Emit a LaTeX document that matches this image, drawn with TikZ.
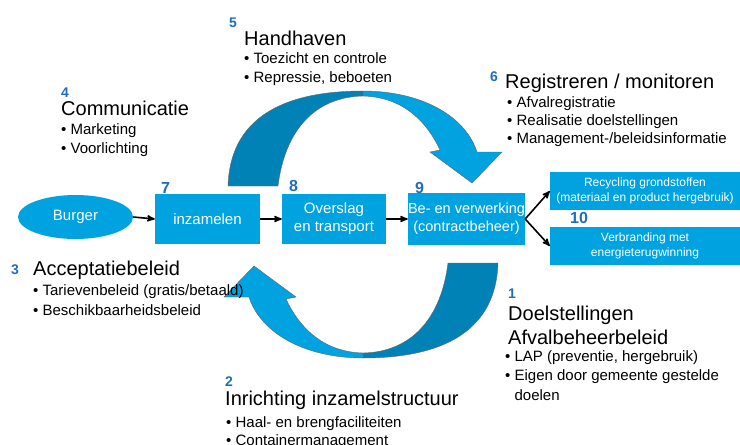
\documentclass[tikz,border=0pt]{standalone}
\usepackage{fontspec}
\setmainfont{Liberation Sans}
\usetikzlibrary{shapes.geometric, arrows}
\definecolor{boxblue}{RGB}{0,163,224}
\definecolor{bandblue}{RGB}{0,130,182}
\definecolor{numblue}{RGB}{30,110,190}
\tikzset {
    >=stealth',
    box/.style={fill=boxblue, text=white, inner sep=0pt, align=center, font=\fontsize{15}{18}\selectfont},
    stage/.style={anchor=base west, inner sep=0pt, text=numblue, font=\fontsize{16}{16}\selectfont\bfseries},
    blocknum/.style={anchor=base west, inner sep=0pt, text=numblue, font=\fontsize{14}{14}\selectfont\bfseries},
    heading/.style={anchor=base west, inner sep=0pt, align=left, font=\fontsize{20}{24}\selectfont},
    bullets/.style={anchor=base west, inner sep=0pt, align=left, font=\fontsize{15}{19}\selectfont},
    flow/.style={->, line width=1.6pt},
    lightband/.style={fill=boxblue, draw=black!60, line width=0.4pt},
    darkband/.style={fill=bandblue, draw=black!60, line width=0.4pt}
}

\begin{document}
\begin{tikzpicture}[x=1pt, y=-1pt]
    \useasboundingbox (0,0) rectangle (740,445);

    % curved arrows (bottom one is the top one turned round)
    \draw[darkband] (228,186) .. controls (230,120) and (280,91) .. (363,91) -- (363,96) .. controls (315,97) and (285,130) .. (278,186) -- cycle;
    \draw[lightband] (363,91) .. controls (420,91) and (465,115) .. (477,152) -- (502,152) -- (472,183) -- (430,152) -- (440,150) .. controls (425,118) and (400,97) .. (363,96) -- cycle;
    \begin{scope}[rotate around={180:(363,224.5)}]
        \draw[darkband] (228,186) .. controls (230,120) and (280,91) .. (363,91) -- (363,96) .. controls (315,97) and (285,130) .. (278,186) -- cycle;
        \draw[lightband] (363,91) .. controls (420,91) and (465,115) .. (477,152) -- (502,152) -- (472,183) -- (430,152) -- (440,150) .. controls (425,118) and (400,97) .. (363,96) -- cycle;
    \end{scope}

    % chain
    \node[box, ellipse, minimum width=115pt, minimum height=44pt] (burger) at (75.5,217) {Burger};
    \node[box, minimum width=105pt, minimum height=50pt] (inzamelen) at (207.5,219) {inzamelen};
    \node[box, minimum width=104pt, minimum height=50pt] (overslag) at (334,219) {Overslag\\en transport};
    \node[box, minimum width=117pt, minimum height=52pt, font=\fontsize{14.5}{18}\selectfont] (verwerking) at (466.5,219) {Be- en verwerking\\(contractbeheer)};
    \node[box, minimum width=190pt, minimum height=38pt, font=\fontsize{12}{15}\selectfont] (recycling) at (645,191) {Recycling grondstoffen\\(materiaal en product hergebruik)};
    \node[box, minimum width=190pt, minimum height=38pt, font=\fontsize{12}{15}\selectfont] (verbranding) at (645,246) {Verbranding met\\energieterugwinning};

    \node[stage] (n7) at (161,193) {7};
    \node[stage] (n8) at (289,191) {8};
    \node[stage] (n9) at (415,193) {9};
    \node[stage] (n10) at (570,223) {10};

    \draw[flow] (burger.east) -- (inzamelen.west);
    \draw[flow] (inzamelen) -- (overslag);
    \draw[flow] (overslag) -- (verwerking);
    \draw[flow] (verwerking.east) -- (recycling.west);
    \draw[flow] (verwerking.east) -- (verbranding.west);

    % 4 (base = last line)
    \node[blocknum] (num4) at (61,97) {4};
    \node[heading] (head4) at (61,115) {Communicatie};
    \node[bullets] (list4) at (61,153) {\textbullet\ Marketing\\\textbullet\ Voorlichting};
    % 5
    \node[blocknum] (num5) at (229,27) {5};
    \node[heading] (head5) at (244,45) {Handhaven};
    \node[bullets] (list5) at (244,82) {\textbullet\ Toezicht en controle\\\textbullet\ Repressie, beboeten};
    % 6
    \node[blocknum] (num6) at (490,81) {6};
    \node[heading] (head6) at (505,88) {Registreren / monitoren};
    \node[bullets, font=\fontsize{15}{18}\selectfont] (list6) at (507,143) {\textbullet\ Afvalregistratie\\\textbullet\ Realisatie doelstellingen\\\textbullet\ Management-/beleidsinformatie};
    % 3
    \node[blocknum] (num3) at (11,274) {3};
    \node[heading] (head3) at (33,275) {Acceptatiebeleid};
    \node[bullets, font=\fontsize{15}{20}\selectfont] (list3) at (33,315) {\textbullet\ Tarievenbeleid (gratis/betaald)\\\textbullet\ Beschikbaarheidsbeleid};
    % 2
    \node[blocknum] (num2) at (225,386) {2};
    \node[heading] (head2) at (225,405) {Inrichting inzamelstructuur};
    \node[bullets, font=\fontsize{15}{18}\selectfont] (list2) at (226,445) {\textbullet\ Haal- en brengfaciliteiten\\\textbullet\ Containermanagement};
    % 1
    \node[blocknum] (num1) at (508,298) {1};
    \node[heading] (head1) at (508,344) {Doelstellingen\\Afvalbeheerbeleid};
    \node[bullets, font=\fontsize{15}{19.5}\selectfont] (list1) at (505,400) {\textbullet\ LAP (preventie, hergebruik)\\\textbullet\ Eigen door gemeente gestelde\\\phantom{\textbullet\ }doelen};
\end{tikzpicture}
\end{document}
